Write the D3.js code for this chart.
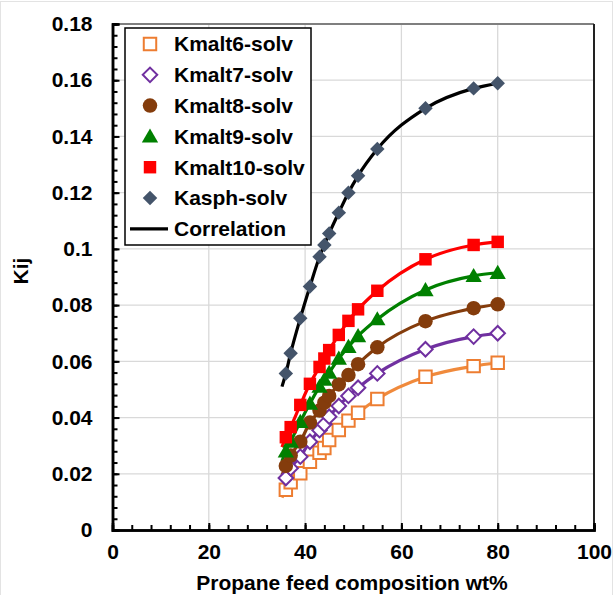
<!DOCTYPE html>
<html>
<head>
<meta charset="utf-8">
<script src="https://cdn.jsdelivr.net/npm/d3@7"></script>
<style>
  body { margin: 0; background: #fff; }
  text { font-family: "Liberation Sans", Arial, sans-serif; font-weight: bold; fill: #000; }
</style>
</head>
<body>
<div id="chart"></div>
<script>
// feed composition (wt% propane) shared by all series
const feedWt = [36, 37, 39, 41, 43, 44, 45, 47, 49, 51, 55, 65, 75, 80];

const kmalt6 = [0.0143, 0.0170, 0.0202, 0.0243, 0.0275, 0.0292, 0.0320, 0.0356, 0.0389, 0.0417, 0.0466, 0.0545, 0.0583, 0.0595];
const kmalt7 = [0.0185, 0.0220, 0.0261, 0.0314, 0.0355, 0.0376, 0.0403, 0.0441, 0.0477, 0.0506, 0.0557, 0.0643, 0.0688, 0.0700];
const kmalt8 = [0.0228, 0.0265, 0.0314, 0.0382, 0.0425, 0.0453, 0.0477, 0.0518, 0.0551, 0.0590, 0.0650, 0.0743, 0.0789, 0.0803];
const kmalt9 = [0.0280, 0.0315, 0.0385, 0.0450, 0.0510, 0.0535, 0.0560, 0.0610, 0.0652, 0.0690, 0.0750, 0.0854, 0.0904, 0.0915];
const kmalt10 = [0.0330, 0.0366, 0.0445, 0.0520, 0.0580, 0.0610, 0.0640, 0.0694, 0.0744, 0.0785, 0.0851, 0.0963, 0.1014, 0.1025];
const kasph = [0.0557, 0.0629, 0.0753, 0.0866, 0.0972, 0.1014, 0.1055, 0.1129, 0.1200, 0.1260, 0.1355, 0.1500, 0.1571, 0.1589];

// correlation curves begin slightly left of the first data point
const corrStartWt = 35.2;
const corrStart = [0.0115, 0.0155, 0.0195, 0.0245, 0.0295, 0.0510];

const seriesNames = ["Kmalt6-solv", "Kmalt7-solv", "Kmalt8-solv", "Kmalt9-solv", "Kmalt10-solv", "Kasph-solv"];
const seriesValues = [kmalt6, kmalt7, kmalt8, kmalt9, kmalt10, kasph];

const xTicks = [0, 20, 40, 60, 80, 100];
const yTicks = [0, 0.02, 0.04, 0.06, 0.08, 0.1, 0.12, 0.14, 0.16, 0.18];

const width = 614, height = 595;
const plotLeft = 112.5, plotRight = 594, plotTop = 24, plotBottom = 530;
const fontSize = 21;

const styles = [
  { shape: "square", fill: "#fff", stroke: "#ED7D31", line: "#F08A3C" },
  { shape: "diamond", fill: "#fff", stroke: "#7030A0", line: "#7030A0" },
  { shape: "circle", fill: "#843C0C", stroke: "none", line: "#843C0C" },
  { shape: "triangle", fill: "#008000", stroke: "none", line: "#008000" },
  { shape: "square", fill: "#FF0000", stroke: "none", line: "#FF0000" },
  { shape: "diamond", fill: "#44546A", stroke: "none", line: "#000" }
];

const svg = d3.select("#chart").append("svg")
  .attr("width", width)
  .attr("height", height);

svg.append("rect")
  .attr("x", 0.5).attr("y", 1.5)
  .attr("width", width - 2).attr("height", height + 10)
  .attr("fill", "#fff").attr("stroke", "#e3e3e3");

const x = d3.scaleLinear().domain([0, 100]).range([plotLeft, plotRight]);
const y = d3.scaleLinear().domain([0, 0.18]).range([plotBottom, plotTop]);

// gridlines
svg.append("g").selectAll("line").data(yTicks.slice(1)).join("line")
  .attr("x1", plotLeft).attr("x2", plotRight)
  .attr("y1", d => y(d)).attr("y2", d => y(d))
  .attr("stroke", "#d9d9d9").attr("stroke-width", 1.3);
svg.append("g").selectAll("line").data(xTicks.slice(1)).join("line")
  .attr("y1", plotTop).attr("y2", plotBottom)
  .attr("x1", d => x(d)).attr("x2", d => x(d))
  .attr("stroke", "#d9d9d9").attr("stroke-width", 1.3);

// plot frame: grey top, black right
svg.append("line").attr("x1", plotLeft).attr("x2", plotRight).attr("y1", plotTop).attr("y2", plotTop)
  .attr("stroke", "#7f7f7f").attr("stroke-width", 2);
svg.append("line").attr("x1", plotRight).attr("x2", plotRight).attr("y1", plotTop).attr("y2", plotBottom)
  .attr("stroke", "#222").attr("stroke-width", 2);

// axes with inward ticks
const xMinor = d3.range(0, 101, 4);
const yMinor = d3.range(0, 0.1801, 0.004);

const xAxis = svg.append("g").attr("transform", `translate(0,${plotBottom})`)
  .call(d3.axisBottom(x).tickValues(xMinor).tickSize(-5).tickFormat(""));
xAxis.append("g").call(d3.axisBottom(x).tickValues(xTicks).tickSize(-7).tickPadding(14).tickFormat(d3.format("d")));
xAxis.selectAll(".domain").attr("stroke", "#000").attr("stroke-width", 2.5);
xAxis.selectAll(".tick line").attr("stroke", "#000").attr("stroke-width", 2);
xAxis.selectAll(".tick text").attr("font-size", fontSize).attr("font-family", "Liberation Sans, Arial, sans-serif").attr("font-weight", "bold").attr("fill", "#000");

const yAxis = svg.append("g").attr("transform", `translate(${plotLeft},0)`)
  .call(d3.axisLeft(y).tickValues(yMinor).tickSize(-5).tickFormat(""));
yAxis.append("g").call(d3.axisLeft(y).tickValues(yTicks).tickSize(-7).tickPadding(20).tickFormat(d => String(+d.toFixed(2))));
yAxis.selectAll(".domain").attr("stroke", "#000").attr("stroke-width", 2.5);
yAxis.selectAll(".tick line").attr("stroke", "#000").attr("stroke-width", 2);
yAxis.selectAll(".tick text").attr("font-size", fontSize).attr("font-family", "Liberation Sans, Arial, sans-serif").attr("font-weight", "bold").attr("fill", "#000");

// axis titles
svg.append("text")
  .attr("x", 352).attr("y", 590)
  .attr("text-anchor", "middle").attr("font-size", fontSize)
  .text("Propane feed composition wt%");
svg.append("text")
  .attr("transform", "translate(28,271) rotate(-90)")
  .attr("text-anchor", "middle").attr("font-size", fontSize)
  .text("Kij");

function symbolPath(shape) {
  if (shape === "square") return d3.symbol(d3.symbolSquare, 155)();
  if (shape === "diamond") return d3.symbol(d3.symbolSquare, 105)();
  if (shape === "circle") return d3.symbol(d3.symbolCircle, 165)();
  return d3.symbol(d3.symbolTriangle, 115)();
}

function drawMarker(sel, st, cx, cy) {
  const rot = st.shape === "diamond" ? " rotate(45)" : "";
  const dy = st.shape === "triangle" ? 1.5 : 0;
  sel.append("path")
    .attr("d", symbolPath(st.shape))
    .attr("transform", `translate(${cx},${cy + dy})${rot}`)
    .attr("fill", st.fill)
    .attr("stroke", st.stroke)
    .attr("stroke-width", st.stroke === "none" ? 0 : 2);
}

// correlation curves
const line = d3.line().x(d => x(d[0])).y(d => y(d[1])).curve(d3.curveMonotoneX);
seriesValues.forEach((vals, i) => {
  const pts = [[corrStartWt, corrStart[i]]].concat(feedWt.map((w, j) => [w, vals[j]]));
  svg.append("path")
    .attr("d", line(pts))
    .attr("fill", "none")
    .attr("stroke", styles[i].line)
    .attr("stroke-width", 3.2);
});

// markers
seriesValues.forEach((vals, i) => {
  const g = svg.append("g");
  feedWt.forEach((w, j) => drawMarker(g, styles[i], x(w), y(vals[j])));
});

// legend
const lg = svg.append("g");
lg.append("rect")
  .attr("x", 125).attr("y", 28).attr("width", 186).attr("height", 217)
  .attr("fill", "#fff").attr("stroke", "#000").attr("stroke-width", 1.5);
const rowH = 30.8;
seriesNames.forEach((name, i) => {
  const cy = 44 + i * rowH;
  drawMarker(lg, styles[i], 150, cy);
  lg.append("text")
    .attr("x", 174).attr("y", cy).attr("dy", "0.35em")
    .attr("font-size", fontSize)
    .text(name);
});
const cyCorr = 44 + 6 * rowH;
lg.append("line").attr("x1", 130).attr("x2", 168).attr("y1", cyCorr).attr("y2", cyCorr)
  .attr("stroke", "#000").attr("stroke-width", 3.2);
lg.append("text")
  .attr("x", 174).attr("y", cyCorr).attr("dy", "0.35em")
  .attr("font-size", fontSize)
  .text("Correlation");
</script>
</body>
</html>
